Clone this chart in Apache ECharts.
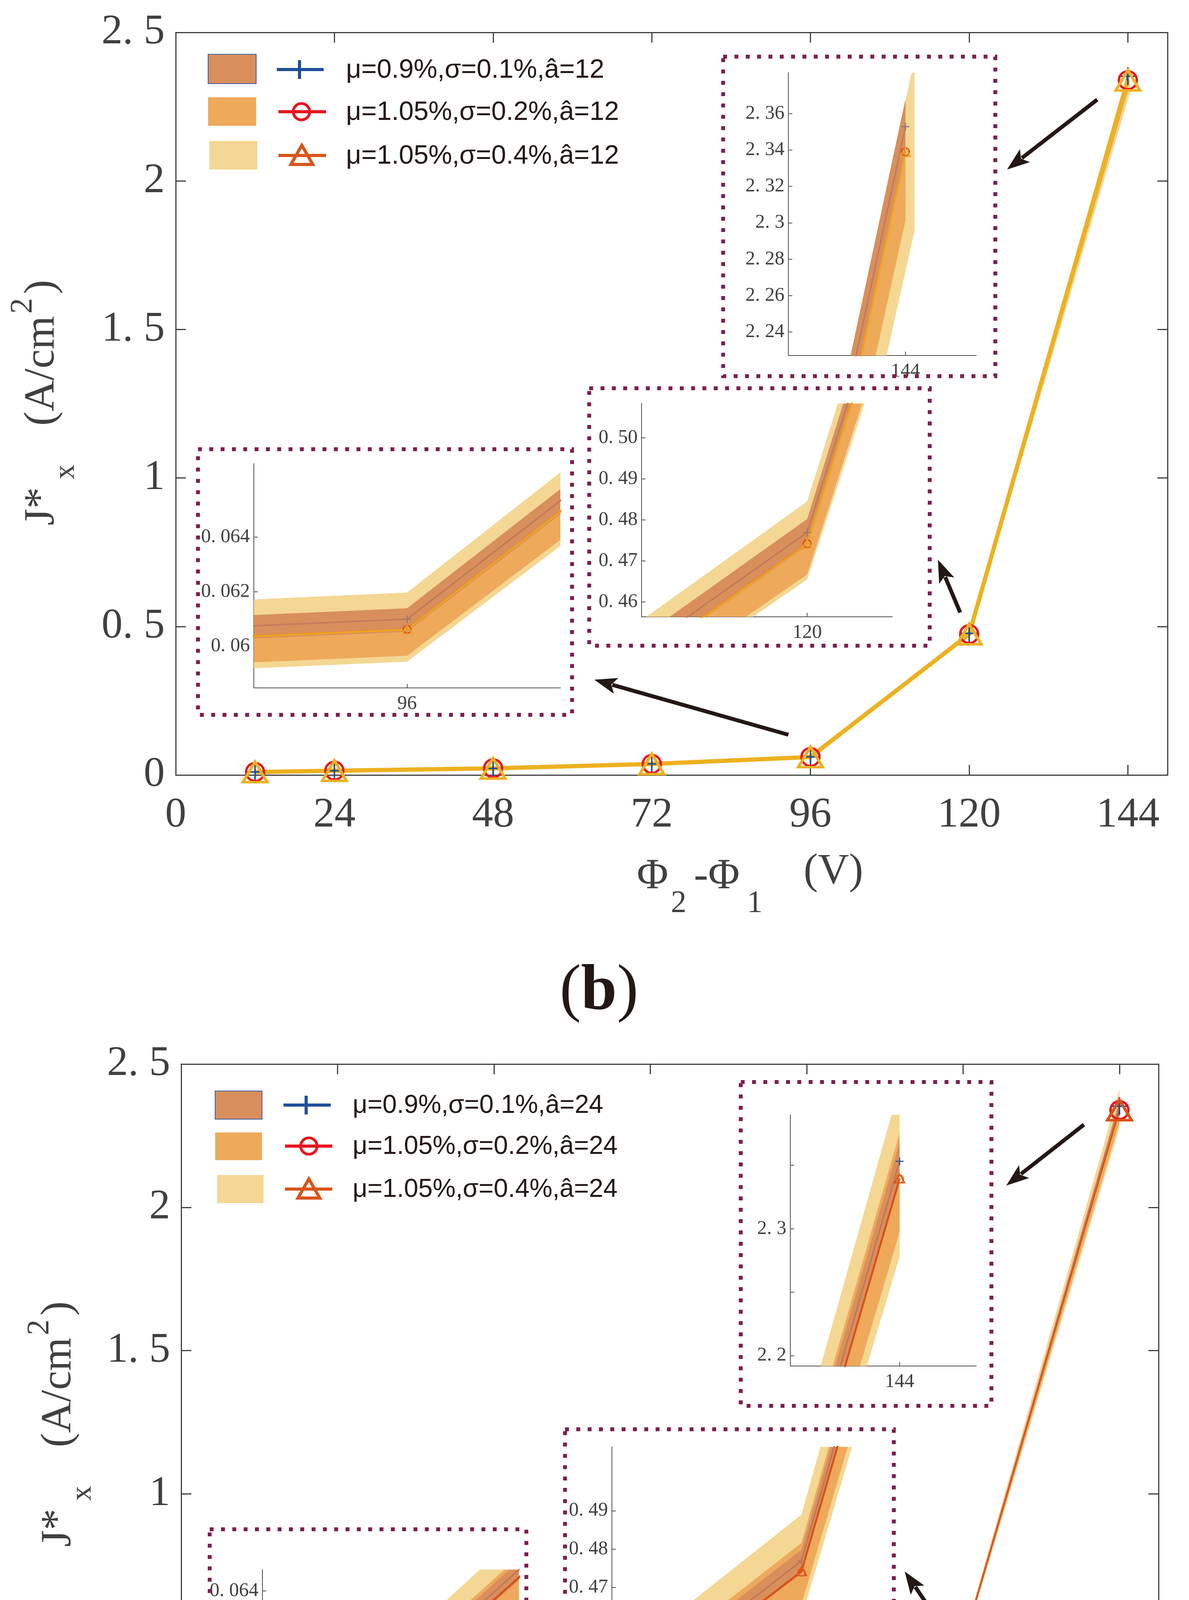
<!DOCTYPE html>
<html>
<head>
<meta charset="utf-8">
<script src="https://cdn.jsdelivr.net/npm/echarts@6/dist/echarts.min.js"></script>
<style>
  html, body { margin: 0; padding: 0; background: #fff; }
  #chart { width: 3045px; height: 5224px; }
</style>
</head>
<body>
<div id="chart"></div>
<script>
// ---- data ----
var volts = [12, 24, 48, 72, 96, 120, 144];
var voltsYellowB = [12, 24, 48, 72, 96, 120, 144.3];   // light band of (b) ends a bit past 144
var xTicks = [0, 24, 48, 72, 96, 120, 144];
var yTicks = [0, 0.5, 1, 1.5, 2, 2.5];

// (b)  â=12
var bPlusMean   = [0.0101, 0.0146, 0.0224, 0.0374, 0.06099, 0.47694, 2.3528];
var bCircleMean = [0.0100, 0.0145, 0.0222, 0.0371, 0.06062, 0.4742, 2.3390];
var bTriMean    = [0.0100, 0.0145, 0.0222, 0.0371, 0.06061, 0.4741, 2.3388];
var bBrownLo  = [0.0100, 0.0145, 0.0222, 0.0371, 0.060526, 0.47366, 2.3376];
var bBrownHi  = [0.0102, 0.0147, 0.0226, 0.0377, 0.061388, 0.48022, 2.3679];
var bOrangeLo = [0.0098, 0.0143, 0.0218, 0.0365, 0.059651, 0.46670, 2.3012];
var bOrangeHi = [0.0102, 0.0147, 0.0226, 0.0376, 0.061350, 0.48000, 2.3670];
var bYellowLo = [0.0098, 0.0142, 0.0218, 0.0364, 0.059433, 0.46549, 2.2959];
var bYellowHi = [0.0102, 0.0148, 0.0227, 0.0380, 0.061962, 0.48450, 2.3903];

// (c)  â=24
var cPlusMean   = [0.0104, 0.0140, 0.0226, 0.0364, 0.060994, 0.47690, 2.3531];
var cCircleMean = [0.0103, 0.0138, 0.0222, 0.0367, 0.060640, 0.47400, 2.3392];
var cTriMean    = [0.0103, 0.0138, 0.0222, 0.0367, 0.060658, 0.47419, 2.3395];
var cBrownLo  = [0.0103, 0.0139, 0.0224, 0.0361, 0.060535, 0.47370, 2.3380];
var cBrownHi  = [0.0105, 0.0141, 0.0228, 0.0368, 0.061377, 0.47985, 2.3683];
var cOrangeLo = [0.0101, 0.0136, 0.0218, 0.0355, 0.059503, 0.46557, 2.2974];
var cOrangeHi = [0.0105, 0.0142, 0.0229, 0.0371, 0.061576, 0.48158, 2.3756];
var cYellowLo = [0.0100, 0.0135, 0.0216, 0.0353, 0.058990, 0.46212, 2.2780];
var cYellowHi = [0.0106, 0.0143, 0.0231, 0.0373, 0.062570, 0.48897, 2.4123];

// zoom windows of the insets
var bZoom96  = { x: [95.75, 96.25],   y: [0.058475, 0.06668], yt: [0.06, 0.062, 0.064], xt: [96] };
var bZoom120 = { x: [118.355, 120.845], y: [0.45638, 0.50838], yt: [0.46, 0.47, 0.48, 0.49, 0.50], xt: [120] };
var bZoom144 = { x: [140.18, 146.31], y: [2.2271, 2.3825], yt: [2.24, 2.26, 2.28, 2.3, 2.32, 2.34, 2.36], xt: [144] };
var cZoom96  = { x: [95.613, 96.23],  y: [0.058356, 0.06499], yt: [0.06, 0.062, 0.064], xt: [96] };
var cZoom120 = { x: [117.8, 120.9],   y: [0.45567, 0.5066], yt: [0.46, 0.47, 0.48, 0.49], xt: [120] };
var cZoom144 = { x: [140.19, 146.67], y: [2.1918, 2.3897], yt: [2.2, 2.25, 2.3, 2.35], yl: [2.2, 2.3], xt: [144] };

var legendB = ['μ=0.9%,σ=0.1%,â=12', 'μ=1.05%,σ=0.2%,â=12', 'μ=1.05%,σ=0.4%,â=12'];
var legendC = ['μ=0.9%,σ=0.1%,â=24', 'μ=1.05%,σ=0.2%,â=24', 'μ=1.05%,σ=0.4%,â=24'];

// ---- styling ----
var serif = 'Liberation Serif';
var sans = 'Liberation Sans';
var axisGray = '#404040';
var colBrown = '#D98F5B', colOrange = '#EEA95B', colYellow = '#F4D793';
var boxColor = '#7E1F4F', ink = '#231815';
var plusPath = 'path://M0,-10L0,10M-10,0L10,0';

function dotFmt(v) { return String(v).replace('.', '. '); }
function dotFmt2(v) { return v.toFixed(2).replace('.', '. '); }

var chart = echarts.init(document.getElementById('chart'));

var grids = [
  { left: 450,  top: 83,   width: 2540, height: 1901 },  // (b) main
  { left: 650,  top: 1187, width: 785,  height: 574 },   // (b) 96
  { left: 1643, top: 1033, width: 642,  height: 546 },   // (b) 120
  { left: 2019, top: 186,  width: 481,  height: 724 },   // (b) 144
  { left: 464,  top: 2724, width: 2503, height: 1834 },  // (c) main
  { left: 672,  top: 4018, width: 657,  height: 365 },   // (c) 96
  { left: 1567, top: 3704, width: 684,  height: 501 },   // (c) 120
  { left: 2024, top: 2854, width: 476,  height: 643 }    // (c) 144
];
grids.forEach(function (g) { g.containLabel = false; g.outerBoundsMode = 'none'; });

var xAxes = [], yAxes = [];

function mainAxes(gi) {
  var line = { show: true, onZero: false, lineStyle: { color: axisGray, width: 3 } };
  ['bottom', 'top'].forEach(function (pos) {
    xAxes.push({
      type: 'value', gridIndex: gi, position: pos, min: 0, max: 150,
      axisLine: line,
      axisTick: { show: true, inside: true, length: 26, customValues: xTicks, lineStyle: { color: axisGray, width: 3 } },
      axisLabel: pos === 'bottom'
        ? { show: true, customValues: xTicks, margin: 50, fontFamily: serif, fontSize: 108, color: axisGray }
        : { show: false },
      splitLine: { show: false }
    });
  });
  ['left', 'right'].forEach(function (pos) {
    yAxes.push({
      type: 'value', gridIndex: gi, position: pos, min: 0, max: 2.5,
      axisLine: line,
      axisTick: { show: true, inside: true, length: 26, customValues: yTicks, lineStyle: { color: axisGray, width: 3 } },
      axisLabel: pos === 'left'
        ? { show: true, customValues: yTicks, margin: 28, fontFamily: serif, fontSize: 108, color: axisGray, formatter: dotFmt }
        : { show: false },
      splitLine: { show: false }
    });
  });
}

function insetAxes(gi, z, yFmt) {
  var line = { show: true, onZero: false, lineStyle: { color: '#505050', width: 2 } };
  xAxes.push({
    type: 'value', gridIndex: gi, position: 'bottom', min: z.x[0], max: z.x[1],
    axisLine: line,
    axisTick: { show: true, inside: true, length: 10, customValues: z.xt, lineStyle: { color: '#505050', width: 2 } },
    axisLabel: { show: true, customValues: z.xt, margin: 16, fontFamily: serif, fontSize: 50, color: axisGray },
    splitLine: { show: false }
  });
  yAxes.push({
    type: 'value', gridIndex: gi, position: 'left', min: z.y[0], max: z.y[1],
    axisLine: line,
    axisTick: { show: true, inside: true, length: 10, customValues: z.yt, lineStyle: { color: '#505050', width: 2 } },
    axisLabel: { show: true, customValues: z.yl || z.yt, margin: 10, fontFamily: serif, fontSize: 50, color: axisGray, formatter: yFmt || dotFmt },
    splitLine: { show: false }
  });
}

// axis indices: b main x0/x1 y0/y1, b insets 2..4, c main 5/6, c insets 7..9
mainAxes(0);
insetAxes(1, bZoom96);
insetAxes(2, bZoom120, dotFmt2);
insetAxes(3, bZoom144);
mainAxes(4);
insetAxes(5, cZoom96);
insetAxes(6, cZoom120);
insetAxes(7, cZoom144);

function pairs(xs, ys) { return xs.map(function (x, i) { return [x, ys[i]]; }); }

// one filled polygon between lo and hi, placed through the axes of its grid
function band(xi, yi, xs, lo, hi, color) {
  return {
    type: 'custom', xAxisIndex: xi, yAxisIndex: yi, silent: true, z: 2, clip: true,
    data: xs.map(function (x, i) { return [x, lo[i], hi[i]]; }),
    encode: { x: 0, y: [1, 2] },
    renderItem: function (params, api) {
      if (params.dataIndex !== 0) return null;
      var upper = xs.map(function (x, i) { return api.coord([x, hi[i]]); });
      var lower = xs.map(function (x, i) { return api.coord([x, lo[i]]); }).reverse();
      var cs = params.coordSys;
      return {
        type: 'polygon',
        shape: { points: upper.concat(lower) },
        style: { fill: color, stroke: null },
        clipPath: { type: 'rect', shape: { x: cs.x, y: cs.y, width: cs.width, height: cs.height } }
      };
    }
  };
}

function meanLine(xi, yi, ys, o) {
  return {
    type: 'line', xAxisIndex: xi, yAxisIndex: yi, data: pairs(volts, ys),
    symbol: o.symbol, symbolSize: o.size, showSymbol: true, showAllSymbol: true,
    lineStyle: { color: o.line, width: o.lw },
    itemStyle: { color: 'rgba(0,0,0,0)', borderColor: o.mark, borderWidth: o.bw },
    z: 4, silent: true
  };
}

function panel(xi, yi, d, st) {
  return [
    band(xi, yi, d.yellowX, d.yellowLo, d.yellowHi, colYellow),
    band(xi, yi, volts, d.orangeLo, d.orangeHi, colOrange),
    band(xi, yi, volts, d.brownLo, d.brownHi, colBrown),
    meanLine(xi, yi, d.plus, st.plus),
    meanLine(xi, yi, d.circle, st.circle),
    meanLine(xi, yi, d.tri, st.tri)
  ];
}

var dataB = { yellowX: voltsYellowB, yellowLo: bYellowLo, yellowHi: bYellowHi, orangeLo: bOrangeLo, orangeHi: bOrangeHi,
  brownLo: bBrownLo, brownHi: bBrownHi, plus: bPlusMean, circle: bCircleMean, tri: bTriMean };
var dataC = { yellowX: volts, yellowLo: cYellowLo, yellowHi: cYellowHi, orangeLo: cOrangeLo, orangeHi: cOrangeHi,
  brownLo: cBrownLo, brownHi: cBrownHi, plus: cPlusMean, circle: cCircleMean, tri: cTriMean };

var styleBMain = {
  plus:   { symbol: plusPath, size: 46, line: '#1F4E9C', lw: 3, mark: '#1F4E9C', bw: 4 },
  circle: { symbol: 'circle', size: 46, line: '#E8141F', lw: 4, mark: '#E8141F', bw: 6 },
  tri:    { symbol: 'triangle', size: [62, 52], line: '#EDB120', lw: 11, mark: '#EDB120', bw: 7 }
};
function styleBInset(plusMark) {
  return {
    plus:   { symbol: plusPath, size: 20, line: '#C47A5A', lw: 4, mark: plusMark, bw: 3 },
    circle: { symbol: 'circle', size: 20, line: '#E2461F', lw: 4, mark: '#E2461F', bw: 3 },
    tri:    { symbol: 'triangle', size: [26, 22], line: '#EDA520', lw: 5, mark: '#EDA520', bw: 3 }
  };
}
var styleCMain = {
  plus:   { symbol: plusPath, size: 46, line: '#B97A5E', lw: 4, mark: '#1F4E9C', bw: 4 },
  circle: { symbol: 'circle', size: 46, line: '#E8141F', lw: 3, mark: '#E8141F', bw: 6 },
  tri:    { symbol: 'triangle', size: [62, 52], line: '#D95319', lw: 3, mark: '#D95319', bw: 7 }
};
function styleCInset(plusMark) {
  return {
    plus:   { symbol: plusPath, size: 20, line: '#C07858', lw: 4, mark: plusMark, bw: 3 },
    circle: { symbol: 'circle', size: 20, line: '#E8751A', lw: 4, mark: '#E8751A', bw: 3 },
    tri:    { symbol: 'triangle', size: [26, 22], line: '#D9501A', lw: 5, mark: '#D9501A', bw: 3 }
  };
}

var series = [];
series = series.concat(panel(0, 0, dataB, styleBMain));
series = series.concat(panel(2, 2, dataB, styleBInset('#A07868')));
series = series.concat(panel(3, 3, dataB, styleBInset('#A07868')));
series = series.concat(panel(4, 4, dataB, styleBInset('#8C7A84')));
series = series.concat(panel(5, 5, dataC, styleCMain));
series = series.concat(panel(7, 7, dataC, styleCInset('#B87860')));
series = series.concat(panel(8, 8, dataC, styleCInset('#B87860')));
series = series.concat(panel(9, 9, dataC, styleCInset('#2A56A6')));

// ---- annotations: legend, boxes, arrows, titles ----
var graphics = [];

function txt(x, y, text, size, family, color, align) {
  return { type: 'text', z: 20, style: { text: text, x: x, y: y, fontSize: size, fontFamily: family, fill: color,
    align: align || 'left', verticalAlign: 'middle', textAlign: align || 'left', textVerticalAlign: 'middle' } };
}

function legendBlock(rows, labels, fs) {
  rows.forEach(function (r, i) {
    graphics.push({ type: 'rect', shape: { x: r.sx, y: r.sy, width: r.sw, height: r.sh },
      style: { fill: r.fill, stroke: r.edge || null, lineWidth: r.edge ? 2 : 0 }, z: 20 });
    graphics.push({ type: 'line', shape: { x1: r.lx1, y1: r.y, x2: r.lx2, y2: r.y },
      style: { stroke: r.color, lineWidth: 8 }, z: 20 });
    if (r.marker === 'plus') {
      graphics.push({ type: 'line', shape: { x1: r.mx, y1: r.y - 24, x2: r.mx, y2: r.y + 24 },
        style: { stroke: r.color, lineWidth: 8 }, z: 21 });
    } else if (r.marker === 'circle') {
      graphics.push({ type: 'circle', shape: { cx: r.mx, cy: r.y, r: 21 },
        style: { fill: 'none', stroke: r.color, lineWidth: 7 }, z: 21 });
    } else {
      graphics.push({ type: 'polygon', shape: { points: [[r.mx, r.y - 26], [r.mx - 28, r.y + 23], [r.mx + 28, r.y + 23]] },
        style: { fill: 'none', stroke: r.color, lineWidth: 8 }, z: 21 });
    }
    graphics.push(txt(r.tx, r.y + 2, labels[i], fs, sans, ink, 'left'));
  });
}

legendBlock([
  { y: 178, sx: 533, sy: 139, sw: 123, sh: 75, fill: colBrown, edge: '#3A5BA0', lx1: 709, lx2: 829, color: '#1F4E9C', marker: 'plus', mx: 767, tx: 886 },
  { y: 286, sx: 533, sy: 249, sw: 123, sh: 73, fill: colOrange, lx1: 713, lx2: 835, color: '#E8141F', marker: 'circle', mx: 772, tx: 886 },
  { y: 398, sx: 536, sy: 361, sw: 123, sh: 73, fill: colYellow, lx1: 713, lx2: 835, color: '#D9541A', marker: 'tri', mx: 773, tx: 886 }
], legendB, 68);

legendBlock([
  { y: 2829, sx: 551, sy: 2793, sw: 120, sh: 72, fill: colBrown, edge: '#3A5BA0', lx1: 726, lx2: 847, color: '#1F4E9C', marker: 'plus', mx: 784, tx: 903 },
  { y: 2934, sx: 551, sy: 2899, sw: 120, sh: 71, fill: colOrange, lx1: 730, lx2: 851, color: '#E8141F', marker: 'circle', mx: 791, tx: 903 },
  { y: 3044, sx: 556, sy: 3008, sw: 119, sh: 72, fill: colYellow, lx1: 730, lx2: 851, color: '#D9541A', marker: 'tri', mx: 791, tx: 903 }
], legendC, 66);

function dottedBox(x, y, w, h) {
  graphics.push({ type: 'rect', shape: { x: x, y: y, width: w, height: h },
    style: { fill: 'none', stroke: boxColor, lineWidth: 10, lineDash: [10, 19] }, z: 15 });
}
dottedBox(507, 1150, 958, 680);
dottedBox(1509, 994, 872, 659);
dottedBox(1852, 145, 697, 818);
dottedBox(537, 3915, 811, 532);
dottedBox(1447, 3659, 842, 601);
dottedBox(1897, 2770, 642, 829);

function arrow(x1, y1, x2, y2) {
  var dx = x2 - x1, dy = y2 - y1, L = Math.sqrt(dx * dx + dy * dy);
  var ux = dx / L, uy = dy / L, hl = 58, hw = 21;
  var bx = x2 - ux * hl, by = y2 - uy * hl;
  graphics.push({ type: 'line', shape: { x1: x1, y1: y1, x2: bx + ux * 10, y2: by + uy * 10 },
    style: { stroke: ink, lineWidth: 10 }, z: 16 });
  graphics.push({ type: 'polygon', shape: { points: [
    [x2, y2], [bx - uy * hw, by + ux * hw], [x2 - ux * hl * 0.78, y2 - uy * hl * 0.78], [bx + uy * hw, by - ux * hw]
  ] }, style: { fill: ink }, z: 16 });
}
arrow(2019, 1881, 1522, 1740);
arrow(2459, 1568, 2402, 1433);
arrow(2810, 255, 2579, 434);
arrow(2014, 4492, 1359, 4318);
arrow(2411, 4161, 2317, 4023);
arrow(2776, 2879, 2577, 3035);

// y-axis title J*x (A/cm2), rotated to read bottom-to-top
function yTitle(x0, y0) {
  graphics.push({
    type: 'group', x: x0, y: y0, rotation: Math.PI / 2, z: 20,
    children: [
      txt(0, 108, 'J*', 110, serif, axisGray, 'left'),
      txt(118, 169, 'x', 76, serif, axisGray, 'left'),
      txt(255, 108, '(A/cm', 110, serif, axisGray, 'left'),
      txt(542, 60, '2', 80, serif, axisGray, 'left'),
      txt(592, 108, ')', 110, serif, axisGray, 'left')
    ]
  });
}
yTitle(0, 1345);
yTitle(43, 3960);

// x-axis title Φ2-Φ1 (V)
function xTitle(p) {
  graphics.push(txt(p.phi, p.yb, 'Φ', 110, serif, axisGray, 'left'));
  graphics.push(txt(p.s2, p.ys, '2', 80, serif, axisGray, 'left'));
  graphics.push(txt(p.phi2, p.yb, '-Φ', 110, serif, axisGray, 'left'));
  graphics.push(txt(p.s1, p.ys, '1', 80, serif, axisGray, 'left'));
  graphics.push(txt(p.v, p.yv, '(V)', 110, serif, axisGray, 'left'));
}
xTitle({ phi: 1631, s2: 1718, phi2: 1777, s1: 1913, v: 2058, yb: 2245, ys: 2314, yv: 2232 });
xTitle({ phi: 1476, s2: 1563, phi2: 1616, s1: 1757, v: 1825, yb: 4824, ys: 4889, yv: 4810 });

function panelTag(x, y, letter) {
  graphics.push({ type: 'text', z: 20, style: {
    text: '{p|(}{b|' + letter + '}{p|)}', x: x, y: y,
    align: 'center', verticalAlign: 'middle', textAlign: 'center', textVerticalAlign: 'middle',
    rich: {
      p: { fontFamily: serif, fontSize: 165, fill: ink, color: ink },
      b: { fontFamily: serif, fontSize: 165, fontWeight: 'bold', fill: ink, color: ink }
    }
  } });
}
panelTag(1534, 2540, 'b');
panelTag(1520, 5098, 'c');

chart.setOption({
  animation: false,
  backgroundColor: '#ffffff',
  textStyle: { fontFamily: serif },
  grid: grids,
  xAxis: xAxes,
  yAxis: yAxes,
  series: series,
  graphic: { elements: graphics }
});
</script>
</body>
</html>
